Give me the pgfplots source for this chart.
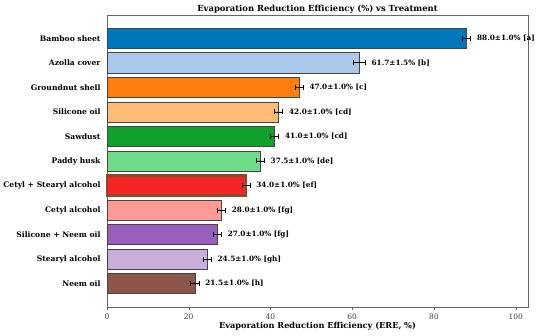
\documentclass[border=0pt]{standalone}
\usepackage{pgfplots}
\pgfplotsset{compat=1.18}
\usepackage{pgfplotstable}
\usepackage{fontspec}
\setmainfont{DejaVu Serif}
\definecolor{c0}{HTML}{0077BB}
\definecolor{c1}{HTML}{A9C8EC}
\definecolor{c2}{HTML}{FF7F0E}
\definecolor{c3}{HTML}{FFBB78}
\definecolor{c4}{HTML}{12A02C}
\definecolor{c5}{HTML}{6EDC88}
\definecolor{c6}{HTML}{F52525}
\definecolor{c6e}{HTML}{8C4A2B}
\definecolor{c7}{HTML}{FF9A96}
\definecolor{c8}{HTML}{9A5FBD}
\definecolor{c9}{HTML}{C9AED8}
\definecolor{c10}{HTML}{8C564B}
\definecolor{edge}{HTML}{444444}
\definecolor{spine}{HTML}{666666}
\pgfplotstableread[col sep=comma]{
y,x,lab
10,90.5,88.0±1.0\% [a]
9,64.7,61.7±1.5\% [b]
8,49.5,47.0±1.0\% [c]
7,44.5,42.0±1.0\% [cd]
6,43.5,41.0±1.0\% [cd]
5,40.0,37.5±1.0\% [de]
4,36.5,34.0±1.0\% [ef]
3,30.5,28.0±1.0\% [fg]
2,29.5,27.0±1.0\% [fg]
1,27.0,24.5±1.0\% [gh]
0,24.0,21.5±1.0\% [h]
}\labtable
\begin{document}
\begin{tikzpicture}
\begin{axis}[
  name=ax,
  scale only axis,
  width=421pt, height=292pt,
  xmin=0, xmax=103,
  ymin=-0.95, ymax=10.95,
  xtick={0,20,40,60,80,100},
  ytick={0,...,10},
  yticklabels={Neem oil,Stearyl alcohol,Silicone + Neem oil,Cetyl alcohol,Cetyl + Stearyl alcohol,Paddy husk,Sawdust,Silicone oil,Groundnut shell,Azolla cover,Bamboo sheet},
  yticklabel style={font=\fontsize{7.6}{9}\selectfont\bfseries},
  xticklabel style={font=\fontsize{7.5}{9}\selectfont, text=black!75},
  /pgf/number format/assume math mode=true,
  tick align=outside,
  tick pos=left,
  major tick length=3pt,
  ytick style={draw=none},
  xtick style={spine},
  axis line style={spine, line width=0.8pt},
  every axis title shift=0pt,
  title={\bfseries Evaporation Reduction Efficiency (\%) vs Treatment},
  title style={font=\fontsize{8.4}{9}\selectfont, at={(0.5,1)}, anchor=south, yshift=0.5pt, inner sep=1pt},
  xlabel={\bfseries Evaporation Reduction Efficiency (ERE, \%)},
  xlabel style={font=\fontsize{8.2}{9}\selectfont, yshift=4pt},
  mybar/.style={xbar, bar shift=0pt, bar width=0.82, draw=edge, line width=0.7pt,
    error bars/x dir=both, error bars/x explicit,
    error bars/error bar style={black, line width=0.7pt},
    error bars/error mark options={black, rotate=90, mark size=2.5pt, line width=0.7pt}},
  clip=false,
]
\addplot[mybar, fill=c0] coordinates {(88.0,10) +- (1.0,0)};
\addplot[mybar, fill=c1] coordinates {(61.7,9) +- (1.5,0)};
\addplot[mybar, fill=c2] coordinates {(47.0,8) +- (1.0,0)};
\addplot[mybar, fill=c3] coordinates {(42.0,7) +- (1.0,0)};
\addplot[mybar, fill=c4] coordinates {(41.0,6) +- (1.0,0)};
\addplot[mybar, fill=c5] coordinates {(37.5,5) +- (1.0,0)};
\addplot[mybar, fill=c6, draw=c6e, line width=2.2pt] coordinates {(34.0,4) +- (1.0,0)};
\addplot[mybar, fill=c7] coordinates {(28.0,3) +- (1.0,0)};
\addplot[mybar, fill=c8] coordinates {(27.0,2) +- (1.0,0)};
\addplot[mybar, fill=c9] coordinates {(24.5,1) +- (1.0,0)};
\addplot[mybar, fill=c10] coordinates {(21.5,0) +- (1.0,0)};
\addplot[only marks, mark=none,
  nodes near coords={\pgfplotspointmeta},
  point meta=explicit symbolic,
  every node near coord/.style={anchor=west, inner sep=0pt, font=\fontsize{7.3}{8}\selectfont\bfseries, text=black},
] table[x=x, y=y, meta=lab] {\labtable};
\end{axis}
\pgfresetboundingbox
\path[use as bounding box] ([xshift=-107pt,yshift=-29pt]ax.south west) rectangle ([xshift=22pt,yshift=15pt]ax.north east);
\end{tikzpicture}
\end{document}
